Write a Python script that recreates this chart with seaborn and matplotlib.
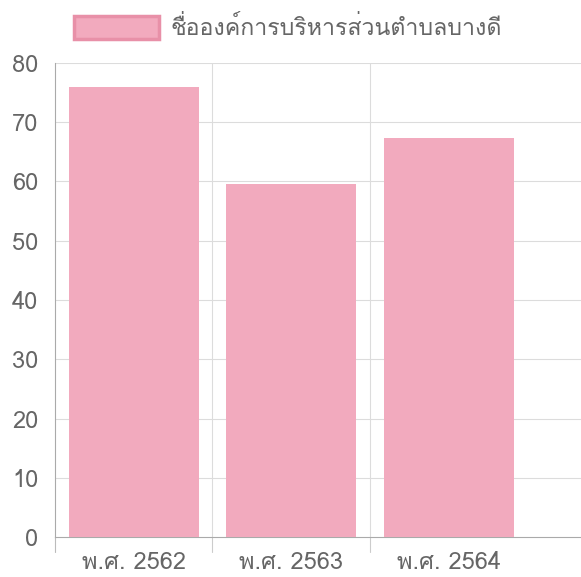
import matplotlib
matplotlib.use('Agg')
import matplotlib.pyplot as plt
from matplotlib import font_manager
from matplotlib.ft2font import FT2Font
from matplotlib.patches import Patch
import seaborn as sns
import pandas as pd

# data
years = ['พ.ศ. 2562', 'พ.ศ. 2563', 'พ.ศ. 2564']
values = [76.0, 59.6, 67.3]
series_name = 'ชื่อองค์การบริหารส่วนตำบลบางดี'

BAR = '#F2AABE'
EDGE = '#E890A8'
TXT = '#666666'

# find a font that has Thai glyphs
thai_font = None
for f in font_manager.fontManager.ttflist:
    try:
        if ord('ช') in FT2Font(f.fname).get_charmap():
            thai_font = f.name
            break
    except Exception:
        continue

sns.set_style('white')
fams = ['DejaVu Sans']
if thai_font:
    fams = [thai_font, 'DejaVu Sans']
plt.rcParams['font.family'] = fams

df = pd.DataFrame({'year': years, 'value': values})

fig = plt.figure(figsize=(5.81, 5.77), dpi=100)
ax = fig.add_axes([55 / 581, 1 - 537 / 577, 1 - 55 / 581, (537 - 63) / 577])

sns.barplot(data=df, x='year', y='value', color=BAR, width=0.825,
            saturation=1, ax=ax, zorder=3)
for p in ax.patches:
    p.set_edgecolor('none')

ax.set_ylim(0, 80)
ax.set_xlim(-0.5, 2.84)
ax.set_yticks(range(0, 81, 10))
ax.set_xlabel('')
ax.set_ylabel('')

# grid like chart.js
for y in range(10, 81, 10):
    ax.axhline(y, color='#dcdcdc', lw=0.8, zorder=1)
for x in [0.5, 1.5]:
    ax.axvline(x, color='#dcdcdc', lw=0.8, zorder=1)
    ax.plot([x, x], [0, -2.6], color='#cccccc', lw=0.8, clip_on=False)
ax.plot([-0.5, -0.5], [0, -2.6], color='#bbbbbb', lw=0.8, clip_on=False)

for s in ['top', 'right']:
    ax.spines[s].set_visible(False)
ax.spines['left'].set_color('#aaaaaa')
ax.spines['bottom'].set_color('#aaaaaa')
ax.tick_params(axis='y', length=10, color='#dcdcdc', labelsize=17, labelcolor=TXT, pad=2)
ax.tick_params(axis='x', length=0, labelsize=17, labelcolor=TXT, pad=10)

leg = fig.legend(handles=[Patch(facecolor=BAR, edgecolor=EDGE, linewidth=2.5, label=series_name)],
                 loc='center left', bbox_to_anchor=(53 / 581, 1 - 28 / 577),
                 frameon=False, fontsize=16.7, handlelength=3.65, handleheight=1.15,
                 handletextpad=0.5, labelcolor=TXT)

fig.savefig('out.png', dpi=100)
